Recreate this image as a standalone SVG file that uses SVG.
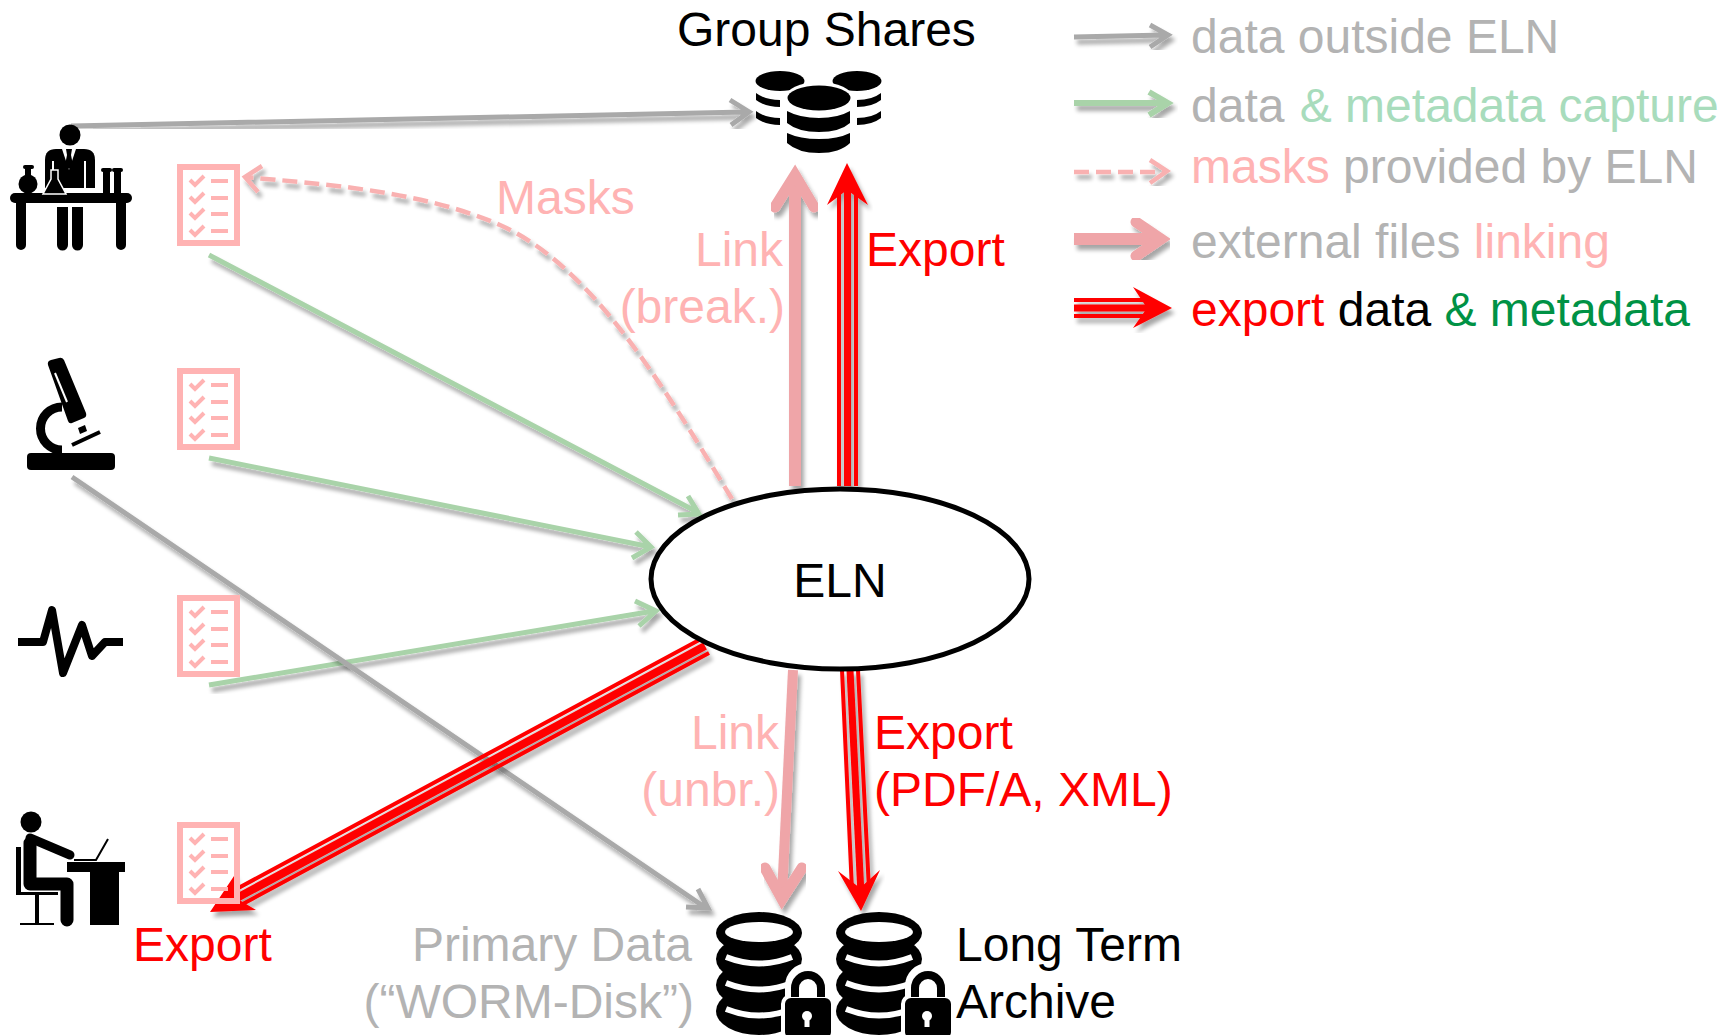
<svg xmlns="http://www.w3.org/2000/svg" xmlns:xlink="http://www.w3.org/1999/xlink" width="1732" height="1035" viewBox="0 0 1732 1035">
<style>
text{font-family:"Liberation Sans",Arial,sans-serif;font-size:48px}
.g{fill:#b3b3b3}.p{fill:#ffb3b3}.r{fill:#ff0000}.k{fill:#000}.m{fill:#a8dcbc}.d{fill:#009245}
.e{text-anchor:end}
.grey{fill:none;stroke:#a9a9a9;stroke-width:5;stroke-linecap:butt;stroke-linejoin:miter}
.green{fill:none;stroke:#a9d3a9;stroke-width:5}
.mask{fill:none;stroke:#f9b1b1;stroke-width:4.500}
.link{fill:none;stroke:#efa5a8;stroke-width:12;stroke-linejoin:miter}
.linkh{fill:none;stroke:#efa5a8;stroke-width:11;stroke-linecap:round;stroke-linejoin:miter}
.ro{fill:none;stroke:#ff0000;stroke-width:4}
.ri{fill:none;stroke:#ff0000;stroke-width:7}
.rh{fill:#ff0000}
.form{fill:none;stroke:#ffb3b3}
</style>
<defs>
<filter id="sh" x="-10%" y="-10%" width="120%" height="120%" filterUnits="objectBoundingBox">
<feGaussianBlur in="SourceAlpha" stdDeviation="2.2"/><feOffset dx="3" dy="5"/>
<feComponentTransfer><feFuncA type="linear" slope="0.35"/></feComponentTransfer>
<feMerge><feMergeNode/><feMergeNode in="SourceGraphic"/></feMerge>
</filter>
<g id="formIcon" class="form">
<rect x="3" y="3" width="57" height="76" stroke-width="6"/>
<path d="M34,17H51M34,34H51M34,50H51M34,67H51" stroke-width="4"/>
<path d="M13,16l5,5 9,-9M13,33l5,5 9,-9M13,49l5,5 9,-9M13,66l5,5 9,-9" stroke-width="4"/>
</g>
<g id="dbIcon">
<ellipse cx="43" cy="100" rx="43" ry="24"/>
<ellipse cx="43" cy="74" rx="43" ry="24"/>
<ellipse cx="43" cy="48" rx="43" ry="24"/>
<ellipse cx="43" cy="22" rx="43" ry="21"/>
<ellipse cx="43" cy="21" rx="34" ry="10" fill="#fff"/>
<path d="M10,46Q43,59 76,46M10,72Q43,85 76,72M10,98Q43,111 76,98" fill="none" stroke="#fff" stroke-width="6"/>
<path d="M73,75a19,19 0 0 1 38,0V88H73Z" fill="#fff" stroke="#fff" stroke-width="8"/>
<rect x="67" y="85" width="50" height="44" rx="8" fill="#000" stroke="#fff" stroke-width="4"/>
<path d="M79,86V77a13,13 0 0 1 26,0V86" fill="none" stroke="#000" stroke-width="8"/>
<circle cx="91" cy="105" r="5" fill="#fff"/><path d="M91,105V116" stroke="#fff" stroke-width="5"/>
</g>
</defs>
<rect width="1732" height="1035" fill="#fff"/>

<g id="connectors">
<g filter="url(#sh)"><path class="grey" d="M71,126L746,112M730,100L749,112 731,125"/></g>
<g filter="url(#sh)"><path class="green" d="M209,255L699,513M678,515L699,514 688,496"/></g>
<g filter="url(#sh)"><path class="green" d="M209,458L651,547M632,558L651,547 636,532"/></g>
<g filter="url(#sh)"><path class="green" d="M209,685L654,611M639,626L656,611 635,601"/></g>
<g filter="url(#sh)"><path class="mask" stroke-dasharray="15 7" d="M732,499C660,380 590,265 500,225C420,190 320,184 245,177"/><path class="mask" d="M262,166L245,177 258,192"/></g>
<g filter="url(#sh)"><path class="grey" d="M72,477L706,908M686,907L708,908 698,889"/></g>
<g filter="url(#sh)"><path class="link" d="M795,486V180"/><path class="linkh" d="M775,207L795,175 814,207"/></g>
<g filter="url(#sh)"><path class="ro" d="M839,486V190M856,486V190"/><path class="ri" d="M847.500,486V185"/><path class="rh" d="M847,163L868,205 847,190 827,205Z"/></g>
<g filter="url(#sh)"><path class="link" style="stroke-width:10" d="M793,670L782,895"/><path class="linkh" d="M765,868L782,899 802,868"/></g>
<g filter="url(#sh)"><path class="ro" d="M842,670L852,890M858,670L869,890"/><path class="ri" d="M850,670L861,895"/><path class="rh" d="M861,911L838,871 860,888 880,870Z"/></g>
<g filter="url(#sh)"><path class="ro" d="M701,639L231,892M709,653L239,906"/><path class="ri" style="stroke-width:8" d="M705,646L235,899"/><path class="rh" d="M210,912L236,873 236,898 256,910Z"/></g>
</g>

<g id="eln"><ellipse cx="840" cy="579" rx="189" ry="90" fill="#fff" stroke="#000" stroke-width="5"/><text x="840" y="597" text-anchor="middle" class="k">ELN</text></g>

<g id="scientist">
<circle cx="70" cy="135" r="10.500"/>
<path d="M45,188V160Q45,149 56,149H84Q95,149 95,160V188Z"/>
<path d="M85,161V189M53,161V188" stroke="#fff" stroke-width="2" fill="none"/>
<path d="M62,149H76L69,170Z" fill="#fff"/><path d="M66,149H72L71,155 73,165 69,169 65,165 67,155Z"/>
<rect x="10" y="193" width="122" height="10" rx="5"/>
<path d="M16,203H26V245a5,5 0 0 1 -10,0ZM116,203H126V245a5,5 0 0 1 -10,0ZM57,207H68V245a5.500,5.500 0 0 1 -11,0ZM72,207H83V245a5.500,5.500 0 0 1 -11,0Z"/>
<circle cx="28" cy="184" r="9.500"/><rect x="25" y="167" width="6" height="10"/><rect x="23" y="165" width="11" height="4" rx="2"/>
<path d="M51,170H58V179L66,194H43L51,179Z" stroke="#fff" stroke-width="1.500"/>
<rect x="103" y="170" width="7" height="23"/><rect x="114" y="170" width="7" height="23"/><rect x="101" y="168" width="11" height="4" rx="2"/><rect x="112" y="168" width="11" height="4" rx="2"/>
</g>
<g id="microscope">
<rect x="27" y="453" width="88" height="17" rx="4"/>
<path d="M62,407A21.500,21.500 0 0 0 62,450" fill="none" stroke="#000" stroke-width="9"/>
<path d="M48,365Q47,361 51,360L59,358Q62,357 64,360L86,413Q87,417 84,418L72,423Q69,424 68,421Z"/>
<path d="M55,373L67,402" stroke="#fff" stroke-width="2"/>
<path d="M78,428L85,425 87,431 80,434Z"/>
<path d="M72,445L100,432" stroke="#000" stroke-width="4"/>
</g>
<g id="signal"><path d="M18,642H43L52,610 63,673 82,625 92,656 105,642H123" fill="none" stroke="#000" stroke-width="8" stroke-linejoin="round"/></g>
<g id="desk-user">
<circle cx="31" cy="822" r="10.500"/>
<path d="M30,843V884H67V920" fill="none" stroke="#000" stroke-width="13" stroke-linecap="round" stroke-linejoin="round"/>
<path d="M30,838L70,855" stroke="#000" stroke-width="9" stroke-linecap="round"/>
<path d="M16,847H21V892H58V895H39V923H54V925H20V923H35V895H16Z"/>
<rect x="67" y="862" width="58" height="10"/><rect x="90" y="872" width="29" height="53"/>
<path d="M74,860H96L108,839" fill="none" stroke="#000" stroke-width="2"/>
</g>

<g id="forms">
<use href="#formIcon" x="177" y="164"/>
<use href="#formIcon" x="177" y="368"/>
<use href="#formIcon" x="177" y="595"/>
<use href="#formIcon" x="177" y="822"/>
</g>

<g id="group-shares">
<text x="677" y="46" class="k">Group Shares</text>
<ellipse cx="780" cy="81" rx="24.500" ry="10"/><ellipse cx="857" cy="81" rx="24.500" ry="10"/>
<path d="M756,93Q765,100 780,100V107Q765,107 756,100ZM756,111Q765,118 780,118V125Q765,125 756,118Z"/>
<path d="M881,93Q872,100 857,100V107Q872,107 881,100ZM881,111Q872,118 857,118V125Q872,125 881,118Z"/>
<ellipse cx="819" cy="98" rx="34" ry="16" fill="#fff"/>
<ellipse cx="819" cy="98" rx="31.500" ry="12.500"/>
<path d="M787,111Q800,118 819,118T850,111V123Q840,132 819,132T787,123ZM787,133Q800,139 819,139T850,133V143Q840,153 819,153T787,143Z"/>
</g>

<g id="primary-data"><use href="#dbIcon" x="716" y="911"/>
<text x="692" y="961" class="g e">Primary Data</text><text x="694" y="1018" class="g e">(“WORM-Disk”)</text></g>
<g id="archive"><use href="#dbIcon" x="836" y="911"/>
<text x="956" y="961" class="k">Long Term</text><text x="956" y="1018" class="k">Archive</text></g>

<g id="labels">
<text x="496" y="214" class="p">Masks</text>
<text x="783" y="266" class="p e">Link</text><text x="785" y="323" class="p e">(break.)</text>
<text x="866" y="266" class="r">Export</text>
<text x="779" y="749" class="p e">Link</text><text x="780" y="806" class="p e">(unbr.)</text>
<text x="874" y="749" class="r">Export</text><text x="874" y="806" class="r">(PDF/A, XML)</text>
<text x="133" y="961" class="r">Export</text>
</g>

<g id="legend">
<g filter="url(#sh)"><path class="grey" d="M1074,37L1166,35M1150,25L1168,35 1150,47"/></g>
<g filter="url(#sh)"><path class="green" style="stroke-width:6" d="M1074,103H1166M1149,92L1168,103 1149,115"/></g>
<g filter="url(#sh)"><path class="mask" stroke-dasharray="15 7" d="M1074,172H1164"/><path class="mask" d="M1150,160L1167,171 1150,183"/></g>
<g filter="url(#sh)"><path class="link" d="M1074,239H1155"/><path class="linkh" d="M1136,222L1161,239 1136,256"/></g>
<g filter="url(#sh)"><path class="ro" d="M1074,300H1150M1074,316H1150"/><path class="ri" d="M1074,308H1150"/><path class="rh" d="M1172,308L1133,287 1147,308 1133,328Z"/></g>
<text x="1191" y="53" class="g">data outside ELN</text>
<text x="1191" y="122"><tspan class="g">data </tspan><tspan class="m" dx="2">&amp; metadata capture</tspan></text>
<text x="1191" y="183"><tspan class="p">masks </tspan><tspan class="g">provided by ELN</tspan></text>
<text x="1191" y="258"><tspan class="g">external files </tspan><tspan class="p">linking</tspan></text>
<text x="1191" y="326"><tspan class="r">export </tspan><tspan class="k">data </tspan><tspan class="d">&amp; metadata</tspan></text>
</g>
</svg>
